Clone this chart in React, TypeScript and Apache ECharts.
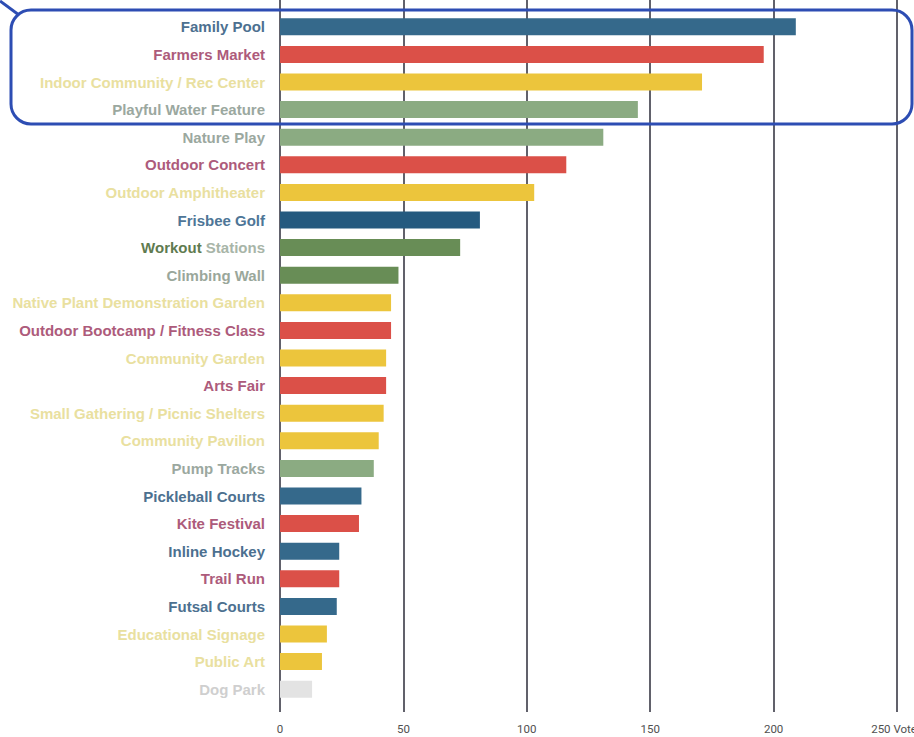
import React, { useEffect, useRef } from "react";
import * as echarts from "echarts";

const categories = [
  "Family Pool",
  "Farmers Market",
  "Indoor Community / Rec Center",
  "Playful Water Feature",
  "Nature Play",
  "Outdoor Concert",
  "Outdoor Amphitheater",
  "Frisbee Golf",
  "Workout Stations",
  "Climbing Wall",
  "Native Plant Demonstration Garden",
  "Outdoor Bootcamp / Fitness Class",
  "Community Garden",
  "Arts Fair",
  "Small Gathering / Picnic Shelters",
  "Community Pavilion",
  "Pump Tracks",
  "Pickleball Courts",
  "Kite Festival",
  "Inline Hockey",
  "Trail Run",
  "Futsal Courts",
  "Educational Signage",
  "Public Art",
  "Dog Park",
];

const votes = [209, 196, 171, 145, 131, 116, 103, 81, 73, 48, 45, 45, 43, 43, 42, 40, 38, 33, 32, 24, 24, 23, 19, 17, 13];

const groups = [
  "blue", "red", "yellow", "sage", "sage", "red", "yellow", "navy", "green", "green",
  "yellow", "red", "yellow", "red", "yellow", "yellow", "sage", "blue", "red", "blue",
  "red", "blue", "yellow", "yellow", "grey",
];

const xTicks = [0, 50, 100, 150, 200, 250];

const barPalette: Record<string, string> = {
  blue: "#35698b",
  navy: "#255a7f",
  red: "#db5048",
  yellow: "#ecc53c",
  sage: "#8bab82",
  green: "#688d56",
  grey: "#e3e3e3",
};

const labelPalette: Record<string, string> = {
  blue: "#4c7090",
  navy: "#4e7697",
  red: "#ad5b7b",
  yellow: "#e9e09f",
  sage: "#9ba89f",
  green: "#9aa79b",
  grey: "#cfcfcf",
};

export default function App() {
  const ref = useRef<HTMLDivElement>(null);
  useEffect(() => {
    if (!ref.current) return;
    const chart = echarts.init(ref.current, undefined, { renderer: "svg" });
    const font = "'Liberation Sans', Arial, sans-serif";
    const tickFont = "Roboto, 'Noto Sans', sans-serif";
    const option: any = {
      animation: false,
      backgroundColor: "#ffffff",
      grid: [
        { left: 280, right: 17, top: 13, height: 690, containLabel: false, outerBoundsMode: "none" },
        { left: 280, right: 17, top: 0, bottom: 25, containLabel: false, outerBoundsMode: "none" },
      ],
      xAxis: [
        {
          gridIndex: 0,
          type: "value",
          min: 0,
          max: 250,
          interval: 50,
          axisLine: { show: false },
          axisTick: { show: false },
          axisLabel: { show: false },
          splitLine: { show: false },
        },
        {
          gridIndex: 1,
          type: "value",
          min: xTicks[0],
          max: xTicks[xTicks.length - 1],
          interval: 50,
          axisLine: { show: false },
          axisTick: { show: false },
          splitLine: { show: true, lineStyle: { color: "#2c2c3a", width: 1.5 } },
          axisLabel: {
            color: "#505050",
            fontFamily: tickFont,
            fontSize: 11.5,
            margin: 11,
            formatter: (v: number) => (v === 250 ? "250 Votes" : String(v)),
          },
        },
      ],
      yAxis: [
        {
          gridIndex: 0,
          type: "category",
          data: categories,
          inverse: true,
          axisLine: { show: false },
          axisTick: { show: false },
          splitLine: { show: false },
          axisLabel: {
            margin: 15,
            fontFamily: font,
            fontSize: 15,
            fontWeight: "bold",
            color: (_v: string, i: number) => labelPalette[groups[i]],
            formatter: (v: string) =>
              v === "Workout Stations" ? "{w|Workout} {s|Stations}" : v,
            rich: {
              w: { color: "#5f7b50", fontFamily: font, fontSize: 15, fontWeight: "bold" },
              s: { color: "#a8b5a8", fontFamily: font, fontSize: 15, fontWeight: "bold" },
            },
          },
        },
        {
          gridIndex: 1,
          type: "value",
          show: false,
        },
      ],
      series: [
        {
          type: "bar",
          xAxisIndex: 0,
          yAxisIndex: 0,
          barWidth: 17,
          z: 5,
          data: votes.map((v, i) => ({
            value: v,
            itemStyle: { color: barPalette[groups[i]] },
          })),
        },
      ],
      graphic: [
        {
          type: "rect",
          shape: { x: 11, y: 10, width: 901, height: 114, r: 20 },
          style: { fill: "none", stroke: "#2d4db3", lineWidth: 3 },
          z: 100,
        },
        {
          type: "line",
          shape: { x1: 0, y1: 1, x2: 19, y2: 15 },
          style: { stroke: "#2d4db3", lineWidth: 3 },
          z: 100,
        },
      ],
    };
    chart.setOption(option);
    return () => chart.dispose();
  }, []);
  return (
    <div
      ref={ref}
      style={{ position: "absolute", left: 0, top: 0, width: 914, height: 737 }}
    />
  );
}
